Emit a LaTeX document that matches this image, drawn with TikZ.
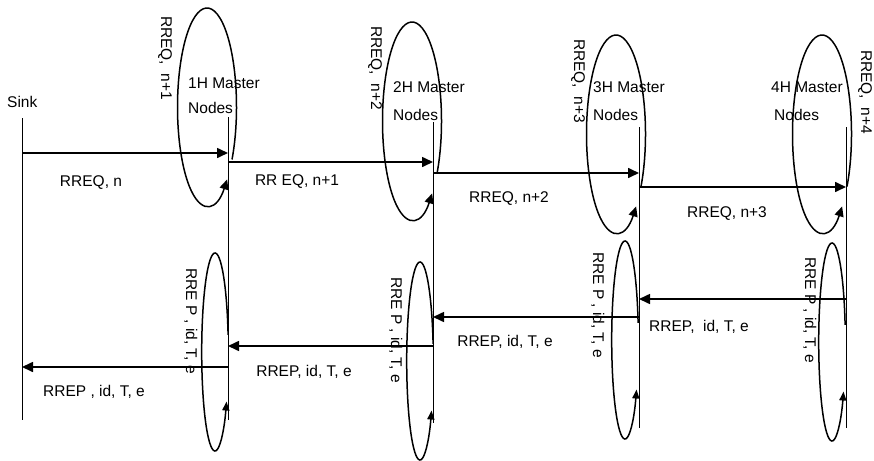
\documentclass[tikz,border=0pt]{standalone}
\usepackage{fontspec}
\setmainfont{Liberation Sans}
\usetikzlibrary{arrows.meta}
\begin{document}
\begin{tikzpicture}[x=1pt,y=-1pt,
  lbl/.style={inner sep=0pt, font=\fontsize{15.5}{18}\selectfont, text height=11pt, text depth=3pt},
  vlbl/.style={lbl, rotate=-90},
  life/.style={line width=1pt},
  msg/.style={line width=1.6pt, -{Triangle[length=11pt,width=10pt]}},
  loopu/.style={line width=1.5pt, -{Triangle[length=10pt,width=9pt]}},
  loopl/.style={line width=1.5pt, -{Triangle[length=9pt,width=7pt]}}
]
\useasboundingbox (0,0) rectangle (874,460);
% lifeline ends
\coordinate (s0t) at (22,118);  \coordinate (s0b) at (22,420);
\coordinate (v1t) at (228,117); \coordinate (v1b) at (228,420);
\coordinate (v2t) at (433,122); \coordinate (v2b) at (433,423);
\coordinate (v3t) at (639,127); \coordinate (v3b) at (639,428);
\coordinate (v4t) at (846,127); \coordinate (v4b) at (846,428);
% message ends
\coordinate (a1s) at (22,153);  \coordinate (a1e) at (228,153);
\coordinate (a2s) at (228,162); \coordinate (a2e) at (433,162);
\coordinate (a3s) at (433,173); \coordinate (a3e) at (639,173);
\coordinate (a4s) at (639,187); \coordinate (a4e) at (846,187);
\coordinate (b4s) at (846,299); \coordinate (b4e) at (639,299);
\coordinate (b3s) at (639,317); \coordinate (b3e) at (433,317);
\coordinate (b2s) at (433,346); \coordinate (b2e) at (228,346);
\coordinate (b1s) at (228,367); \coordinate (b1e) at (22,367);
% ellipse centres
\coordinate (e1u) at (207,107); \coordinate (e2u) at (412,121);
\coordinate (e3u) at (616,134); \coordinate (e4u) at (822,134);
\coordinate (e1l) at (215,352); \coordinate (e2l) at (420,361);
\coordinate (e3l) at (625,340); \coordinate (e4l) at (832,342);

% lifelines
\foreach \v in {s0,v1,v2,v3,v4} \draw[life] (\v t) -- (\v b);

% request messages
\draw[msg] (a1s) -- (a1e);
\draw[msg] (a2s) -- (a2e);
\draw[msg] (a3s) -- (a3e);
\draw[msg] (a4s) -- (a4e);
% reply messages
\draw[msg] (b4s) -- (b4e);
\draw[msg] (b3s) -- (b3e);
\draw[msg] (b2s) -- (b2e);
\draw[msg] (b1s) -- (b1e);

% upper loops
\foreach \e in {e1u,e2u,e3u,e4u}
  \draw[loopu] ([shift={(32:29.5 and 99)}]\e) arc[start angle=32, end angle=-313, x radius=29.5, y radius=99];
% lower loops
\foreach \e in {e1l,e2l,e3l,e4l}
  \draw[loopl] ([shift={(-10:13.3 and 99)}]\e) arc[start angle=-10, end angle=-330, x radius=13.3, y radius=99];

% texts
\node[lbl, anchor=west] (sink) at (7,103) {Sink};
\node[lbl, anchor=west] (m1a) at (188,84) {1H Master};
\node[lbl, anchor=west] (m1b) at (188,109) {Nodes};
\node[lbl, anchor=west] (m2a) at (393,88) {2H Master};
\node[lbl, anchor=west] (m2b) at (393,116) {Nodes};
\node[lbl, anchor=west] (m3a) at (593,88) {3H Master};
\node[lbl, anchor=west] (m3b) at (593,116) {Nodes};
\node[lbl, anchor=west] (m4a) at (771,88) {4H Master};
\node[lbl, anchor=west] (m4b) at (774,116) {Nodes};

\node[vlbl] (q1) at (165,58) {RREQ,\ \ n+1};
\node[vlbl] (q2) at (375,68) {RREQ,\ \ n+2};
\node[vlbl] (q3) at (578,81) {RREQ,\ \ n+3};
\node[vlbl] (q4) at (865,92) {RREQ,\ \ n+4};

\node[vlbl] (p1) at (190,321) {RRE P , id, T, e};
\node[vlbl] (p2) at (395,330) {RRE P , id, T, e};
\node[vlbl] (p3) at (597,305) {RRE P , id, T, e};
\node[vlbl] (p4) at (809,310) {RRE P , id, T, e};

\node[lbl] (t1) at (91,182) {RREQ, n};
\node[lbl] (t2) at (297,181) {RR EQ, n+1};
\node[lbl] (t3) at (509,198) {RREQ, n+2};
\node[lbl] (t4) at (727,213) {RREQ, n+3};
\node[lbl] (r4) at (699,327) {RREP,\ \ id, T, e};
\node[lbl] (r3) at (505,342) {RREP, id, T, e};
\node[lbl] (r2) at (304,372) {RREP, id, T, e};
\node[lbl] (r1) at (94,392) {RREP , id, T, e};
\end{tikzpicture}
\end{document}
